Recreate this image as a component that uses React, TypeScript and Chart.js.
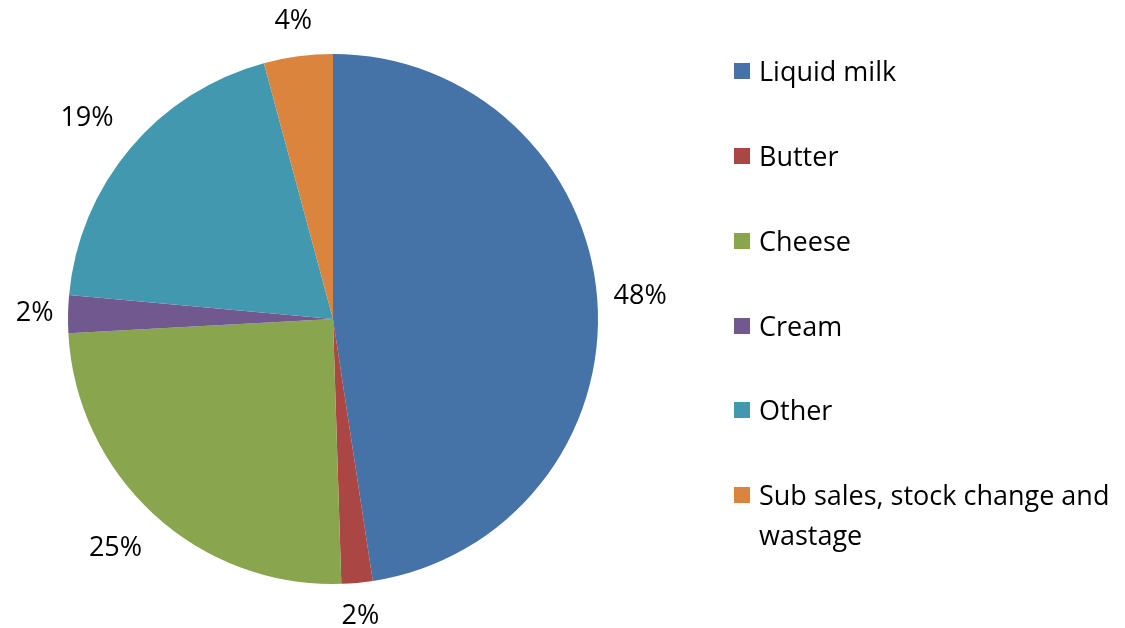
import React, { useEffect, useRef } from "react";
import { Chart, registerables } from "chart.js";

Chart.register(...registerables);

const categories = [
  "Liquid milk",
  "Butter",
  "Cheese",
  "Cream",
  "Other",
  "Sub sales, stock change and wastage",
];
const values = [47.6, 1.9, 24.65, 2.3, 19.35, 4.2];
const pctLabels = ["48%", "2%", "25%", "2%", "19%", "4%"];
const colors = ["#4572A7", "#AA4643", "#89A54E", "#71588F", "#4198AF", "#DB843D"];

const FONT = "'Open Sans', Lato, sans-serif";

const outsideLabels = {
  id: "outsideLabels",
  afterDatasetsDraw(chart: any) {
    const { ctx } = chart;
    const meta = chart.getDatasetMeta(0);
    ctx.save();
    ctx.font = `27px ${FONT}`;
    ctx.fillStyle = "#000";
    ctx.textAlign = "center";
    ctx.textBaseline = "middle";
    meta.data.forEach((arc: any, i: number) => {
      const mid = (arc.startAngle + arc.endAngle) / 2;
      const dx = Math.cos(mid);
      const dy = Math.sin(mid);
      const r = arc.outerRadius + 14 + 16 * Math.abs(Math.sin(2 * mid));
      const w = ctx.measureText(pctLabels[i]).width;
      const h = 34;
      const x = arc.x + dx * r + (dx * w) / 2;
      const y = arc.y + dy * r + (dy * h) / 2;
      ctx.fillText(pctLabels[i], x, y);
    });
    ctx.restore();
  },
};

export default function App() {
  const ref = useRef<HTMLCanvasElement>(null);
  useEffect(() => {
    document.body.style.margin = "0";
    const chart = new Chart(ref.current!, {
      type: "pie",
      data: {
        labels: categories,
        datasets: [
          {
            data: values,
            backgroundColor: colors,
            borderWidth: 0,
          },
        ],
      },
      options: {
        animation: false,
        responsive: false,
        layout: { padding: { left: 68, right: 527, top: 54, bottom: 44 } },
        plugins: {
          legend: { display: false },
          tooltip: { enabled: false },
        },
      },
      plugins: [outsideLabels],
    });
    return () => chart.destroy();
  }, []);

  const rowTops = [71, 156, 241, 326, 410, 495];
  return (
    <div style={{ position: "relative", width: 1125, height: 628, background: "#fff", fontFamily: FONT }}>
      <canvas ref={ref} width={1125} height={628} style={{ position: "absolute", left: 0, top: 0 }} />
      {categories.map((c, i) => (
        <div
          key={c}
          style={{
            position: "absolute",
            left: 734,
            top: rowTops[i] - 20,
            width: 391,
            display: "flex",
            alignItems: "flex-start",
            fontSize: 27,
            lineHeight: "40px",
            color: "#000",
          }}
        >
          <span
            style={{
              display: "inline-block",
              width: 16,
              height: 16,
              background: colors[i],
              marginTop: 12,
              marginRight: 9,
              flexShrink: 0,
            }}
          />
          <span>{c}</span>
        </div>
      ))}
    </div>
  );
}
